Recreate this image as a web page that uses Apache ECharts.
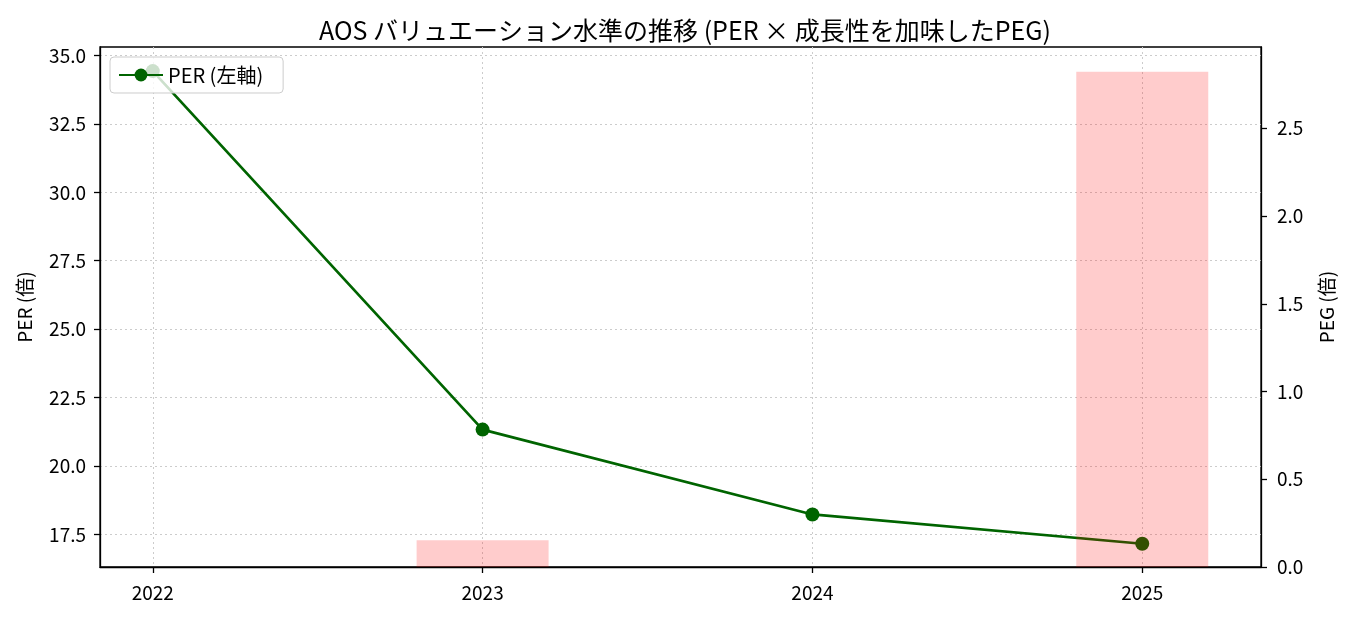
<!DOCTYPE html>
<html>
<head>
<meta charset="utf-8">
<script src="https://cdn.jsdelivr.net/npm/echarts@6/dist/echarts.min.js"></script>
<style>
  html, body { margin: 0; padding: 0; background: #fff; }
  #main { width: 1351px; height: 617px; }
</style>
</head>
<body>
<div id="main"></div>
<script>
var years = ['2022', '2023', '2024', '2025'];
var per = [34.43, 21.33, 18.23, 17.16];
var peg = [null, 0.152, null, 2.822];
var perTicks = [17.5, 20, 22.5, 25, 27.5, 30, 32.5, 35];
var pegTicks = [0, 0.5, 1, 1.5, 2, 2.5];
var yearTicks = [0, 1, 2, 3];

var FONT = '"Noto Sans CJK JP", sans-serif';

var perData = per.map(function (v, i) { return [i, v]; });
var pegData = [];
peg.forEach(function (v, i) { if (v != null) pegData.push([i, v]); });

var myChart = echarts.init(document.getElementById('main'));
var option = {
    animation: false,
    textStyle: { fontFamily: FONT },
    title: {
        text: 'AOS バリュエーション水準の推移 (PER × 成長性を加味したPEG)',
        left: 680,
        textAlign: 'center',
        top: 13,
        textStyle: { fontFamily: FONT, fontSize: 25, fontWeight: 'normal', color: '#000' }
    },
    legend: {
        data: ['PER (左軸)'],
        left: 110,
        top: 57,
        padding: [8, 20, 8, 8],
        itemWidth: 44,
        itemHeight: 16,
        itemGap: 10,
        backgroundColor: 'rgba(255,255,255,0.8)',
        borderColor: '#ccc',
        borderWidth: 1,
        borderRadius: 4,
        textStyle: { fontFamily: FONT, fontSize: 20, color: '#000' }
    },
    grid: {
        left: 100, right: 90, top: 47, bottom: 50,
        show: true, borderColor: '#000', borderWidth: 1.3
    },
    xAxis: {
        type: 'value',
        min: -0.16,
        max: 3.36,
        axisLine: { show: true, onZero: false, lineStyle: { color: '#000', width: 1.3 } },
        axisTick: { show: true, customValues: yearTicks, length: 6, lineStyle: { color: '#000', width: 1.3 } },
        axisLabel: {
            customValues: yearTicks, margin: 16, fontSize: 19, color: '#000', fontFamily: FONT,
            formatter: function (v) { return years[Math.round(v)]; }
        },
        splitLine: { show: true, lineStyle: { color: '#cccccc', type: [2, 3], width: 1 } }
    },
    yAxis: [
        {
            type: 'value',
            min: 16.31,
            max: 35.31,
            name: 'PER (倍)',
            nameLocation: 'middle',
            nameGap: 66,
            nameTextStyle: { fontFamily: FONT, fontSize: 19, color: '#000' },
            axisLine: { show: true, onZero: false, lineStyle: { color: '#000', width: 1.3 } },
            axisTick: { show: true, customValues: perTicks, length: 6, lineStyle: { color: '#000', width: 1.3 } },
            axisLabel: {
                customValues: perTicks, margin: 14, fontSize: 19, color: '#000', fontFamily: FONT,
                formatter: function (v) { return v.toFixed(1); }
            },
            splitLine: { show: true, lineStyle: { color: '#cccccc', type: [2, 3], width: 1 } }
        },
        {
            type: 'value',
            min: 0,
            max: 2.963,
            position: 'right',
            name: 'PEG (倍)',
            nameLocation: 'middle',
            nameGap: 56,
            nameTextStyle: { fontFamily: FONT, fontSize: 19, color: '#000' },
            axisLine: { show: true, onZero: false, lineStyle: { color: '#000', width: 1.3 } },
            axisTick: { show: true, customValues: pegTicks, length: 6, lineStyle: { color: '#000', width: 1.3 } },
            axisLabel: {
                customValues: pegTicks, margin: 16, fontSize: 19, color: '#000', fontFamily: FONT,
                formatter: function (v) { return v.toFixed(1); }
            },
            splitLine: { show: false }
        }
    ],
    series: [
        {
            name: 'PER (左軸)',
            type: 'line',
            xAxisIndex: 0,
            yAxisIndex: 0,
            data: perData,
            z: 2,
            symbol: 'circle',
            symbolSize: 14,
            lineStyle: { color: '#006400', width: 2.7 },
            itemStyle: { color: '#006400' }
        },
        {
            name: 'PEG',
            type: 'bar',
            xAxisIndex: 0,
            yAxisIndex: 1,
            data: pegData,
            z: 3,
            barWidth: 132,
            itemStyle: { color: 'rgba(255,0,0,0.2)' }
        }
    ]
};
myChart.setOption(option);
</script>
</body>
</html>
